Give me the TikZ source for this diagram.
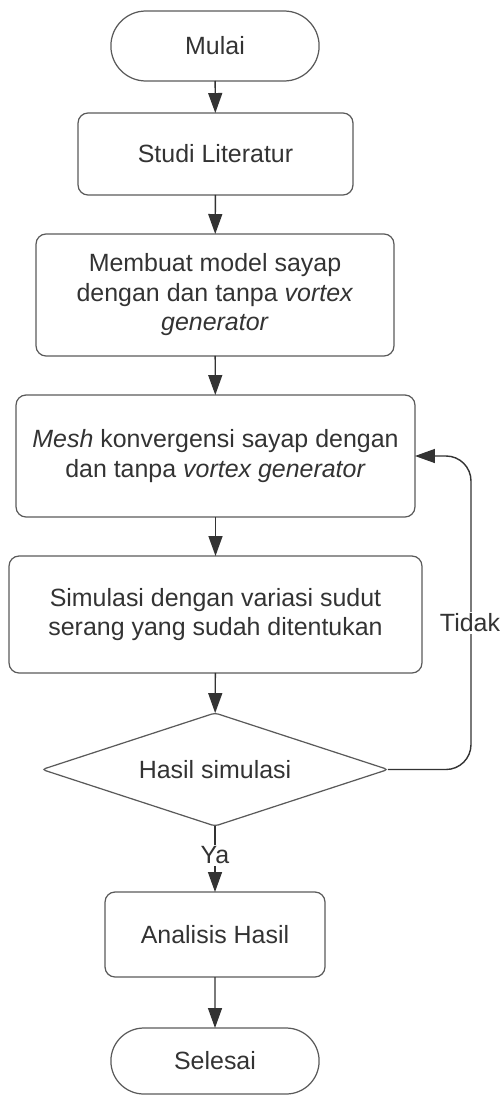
\documentclass[tikz,border=0pt]{standalone}
\usepackage{fontspec}
\setmainfont{Liberation Sans}
\usepackage{tikz}
\usetikzlibrary{
  shapes.misc,      % "rounded rectangle" for Mulai / Selesai
  shapes.geometric, % "diamond"
  arrows.meta,
}
\definecolor{myline}{HTML}{333333}
\definecolor{myborder}{HTML}{5A5A5A}
\tikzset{
  x=0.02cm,
  y=-0.02cm,
  >={Triangle[length=0.4cm,width=0.28cm]},
  every node/.style={
    font=\fontsize{14.2pt}{16.8pt}\selectfont,
    text=myline
  },
  my box/.style={
    draw=myborder,
    line width=0.7pt,
    rounded corners=0.2cm,
    rectangle,
    align=center,
    outer sep=0pt
  },
  my terminal/.style={
    draw=myborder,
    line width=0.7pt,
    rounded rectangle,
    rounded rectangle arc length=180,
    outer sep=0pt
  },
  my decision/.style={
    draw=myborder,
    line width=0.7pt,
    diamond,
    aspect=3.06,
    inner sep=0pt,
    rounded corners=2pt,
    outer sep=0pt
  },
  my flow/.style={
    draw=myline,
    line width=0.8pt,
    ->
  },
  my label/.style={
    fill=white,
    inner sep=1pt
  }
}

\begin{document}
\begin{tikzpicture}
\useasboundingbox (0,0) rectangle (502,1095);

\node[my terminal, minimum width=4.4cm, minimum height=1.4cm] (mulai) at (215,46) {Mulai};
\node[my box, minimum width=5.5cm, minimum height=1.64cm] (studi) at (215.5,154) {Studi Literatur};
\node[my box, minimum width=7.16cm, minimum height=2.44cm] (model) at (215,295)
  {Membuat model sayap\\dengan dan tanpa \textit{vortex}\\\textit{generator}};
\node[my box, minimum width=7.98cm, minimum height=2.44cm] (mesh) at (215.5,456)
  {\textit{Mesh} konvergensi sayap dengan\\dan tanpa \textit{vortex generator}};
\node[my box, minimum width=8.26cm, minimum height=2.34cm] (simulasi) at (215.5,614.5)
  {Simulasi dengan variasi sudut\\serang yang sudah ditentukan};
\node[my decision, minimum width=6.92cm, minimum height=2.26cm] (hasil) at (215,769.5) {Hasil simulasi};
\node[my box, minimum width=4.4cm, minimum height=1.7cm] (analisis) at (215,934.5) {Analisis Hasil};
\node[my terminal, minimum width=4.4cm, minimum height=1.32cm] (selesai) at (215,1061) {Selesai};

\draw[my flow] (mulai) -- (studi);
\draw[my flow] (studi) -- (model);
\draw[my flow] (model) -- (mesh);
\draw[my flow] (mesh) -- (simulasi);
\draw[my flow] (simulasi) -- (hasil);
\draw[my flow] (hasil) -- node[my label, pos=0.44] (ya) {Ya} (analisis);
\draw[my flow] (analisis) -- (selesai);

% loop back when the result is not accepted
\coordinate (back) at (471,456);
\draw[my flow, rounded corners=0.5cm] (hasil.east) -| (back) -- (mesh.east);
\node[my label] (tidak) at (470,623) {Tidak};
\end{tikzpicture}
\end{document}
